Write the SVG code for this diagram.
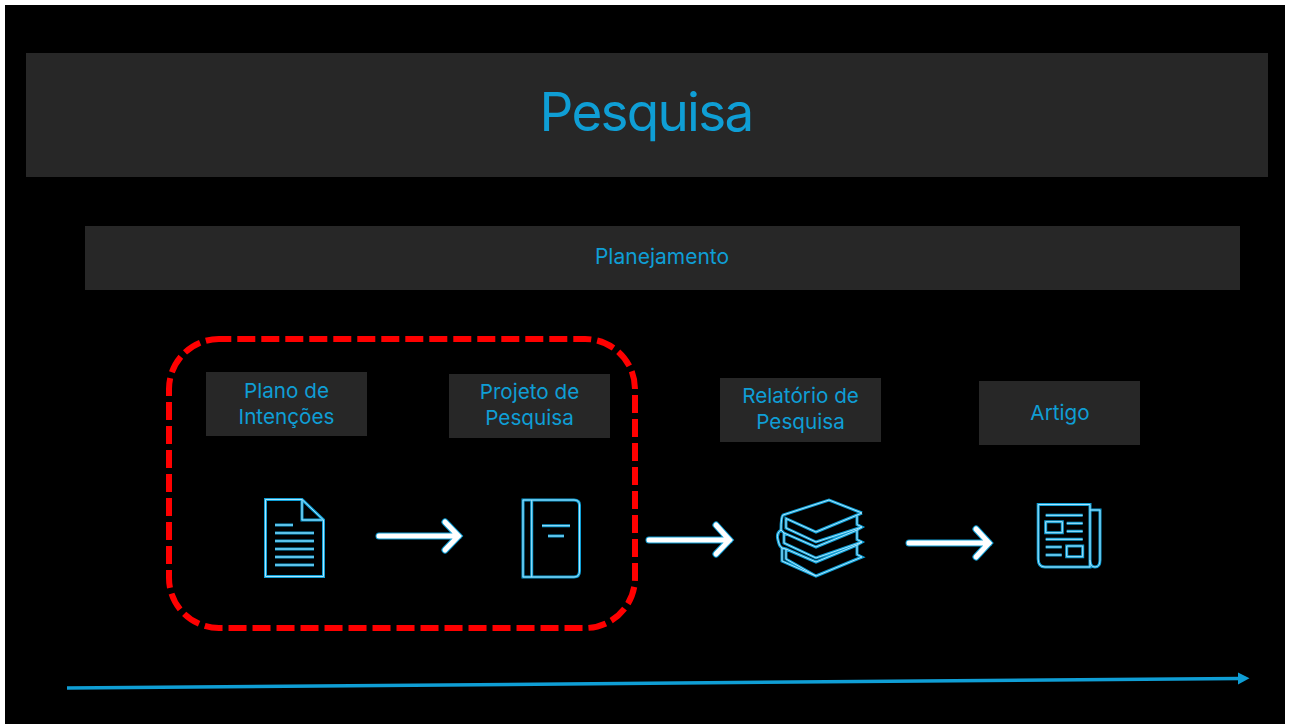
<svg xmlns="http://www.w3.org/2000/svg" width="1292" height="724" viewBox="0 0 1292 724">
<style>
.panel{fill:#272727}
text{font-family:"Inter","Liberation Sans",sans-serif;fill:#0f9ed5;text-anchor:middle}
.lbl{font-size:20.700px}
.ico{fill:none;stroke-linejoin:miter}
.g1{stroke:#0f9ed5;stroke-width:3}
.g2{stroke:#a8e6ff;stroke-width:1}
.a1{fill:none;stroke:#0f9ed5;stroke-width:7;stroke-linecap:round;stroke-linejoin:miter}
.a2{fill:none;stroke:#fff;stroke-width:5;stroke-linecap:round;stroke-linejoin:miter}
</style>
<defs>
<path id="p-doc" d="M265.500 499.500H302L323.500 520V576.500H265.500ZM302 499.500V520H323.500M275 525H293M275 533H314M275 541H314M275 549H314M275 557H314M275 565H314"/>
<path id="p-book" d="M523 500H574Q579.500 500 579.500 505V571Q579.500 577 574 577H523ZM531.700 500V577M542 525.700H570M548 536H564"/>
<path id="p-books" d="M862 513L829 500L783 515Q781 517 781 530Q776 533 778 540Q779 546 782 548V561L816 576L862 557L857 554.500V545L862 542L857 539.500V530L862 527L857 524.500V515.500M862 513L816 532L786 518.500V528L816 542L862 527M781 530L784 533V543L816 558L862 542M784 533L816 547L857 530M782 548L786 549V559L816 576M786 549L816 562L857 545"/>
<path id="p-news" d="M1038.200 504.500H1090V567H1045Q1038.200 567 1038.200 559ZM1090 510H1100V560Q1100 567 1095 567Q1090 567 1090 560M1045.700 515.300H1082.700M1045.700 521.700H1062.300V532.700H1045.700ZM1066.700 523.300H1082.700M1066.700 531.300H1082.700M1045.700 539.300H1082.700M1045.700 547H1061.700M1045.700 555H1061.700M1066.700 546H1082.700V556.700H1066.700Z"/>
<path id="p-a1" d="M379 536H458.500M445 522L458.500 536L445 550"/>
<path id="p-a2" d="M649 540H729.500M716 525L729.500 540L716 554"/>
<path id="p-a3" d="M909 543H989M976 529L989 543L976 557"/>
</defs>
<rect width="1292" height="724" fill="#fff"/>
<rect x="5" y="5" width="1280" height="719" fill="#000"/>
<g id="title"><rect class="panel" x="26" y="53" width="1242" height="124"/><text x="646" y="131" font-size="53" letter-spacing="-1.750">Pesquisa</text></g>
<g id="planejamento"><rect class="panel" x="85" y="226" width="1155" height="64"/><text x="662" y="264" font-size="21">Planejamento</text></g>
<g id="plano"><rect class="panel" x="206" y="372" width="161" height="64"/><text class="lbl" x="286.500" y="398">Plano de</text><text class="lbl" x="286.500" y="424">Intenções</text></g>
<g id="projeto"><rect class="panel" x="449" y="374" width="161" height="64"/><text class="lbl" x="529.500" y="399">Projeto de</text><text class="lbl" x="529.500" y="425">Pesquisa</text></g>
<g id="relatorio"><rect class="panel" x="720" y="378" width="161" height="64"/><text class="lbl" x="800.500" y="403">Relatório de</text><text class="lbl" x="800.500" y="429">Pesquisa</text></g>
<g id="artigo"><rect class="panel" x="979" y="381" width="161" height="64"/><text class="lbl" x="1060" y="420">Artigo</text></g>
<g id="icon-doc" class="ico"><use href="#p-doc" class="g1"/><use href="#p-doc" class="g2"/></g>
<g id="icon-book" class="ico"><use href="#p-book" class="g1"/><use href="#p-book" class="g2"/></g>
<g id="icon-books" class="ico"><use href="#p-books" class="g1"/><use href="#p-books" class="g2"/></g>
<g id="icon-news" class="ico"><use href="#p-news" class="g1"/><use href="#p-news" class="g2"/></g>
<g id="highlight"><rect x="169" y="339" width="466" height="289" rx="50" ry="50" fill="none" stroke="#f00" stroke-width="6" stroke-dasharray="18 6" stroke-dashoffset="-18.300"/></g>
<g id="connectors">
<use href="#p-a1" class="a1"/><use href="#p-a1" class="a2"/>
<use href="#p-a2" class="a1"/><use href="#p-a2" class="a2"/>
<use href="#p-a3" class="a1"/><use href="#p-a3" class="a2"/>
<path d="M67 688L1240 678.500" fill="none" stroke="#0f9ed5" stroke-width="3.500"/>
<path d="M1249.500 678.300L1238 672.500V684.500Z" fill="#0f9ed5"/>
</g>
</svg>
